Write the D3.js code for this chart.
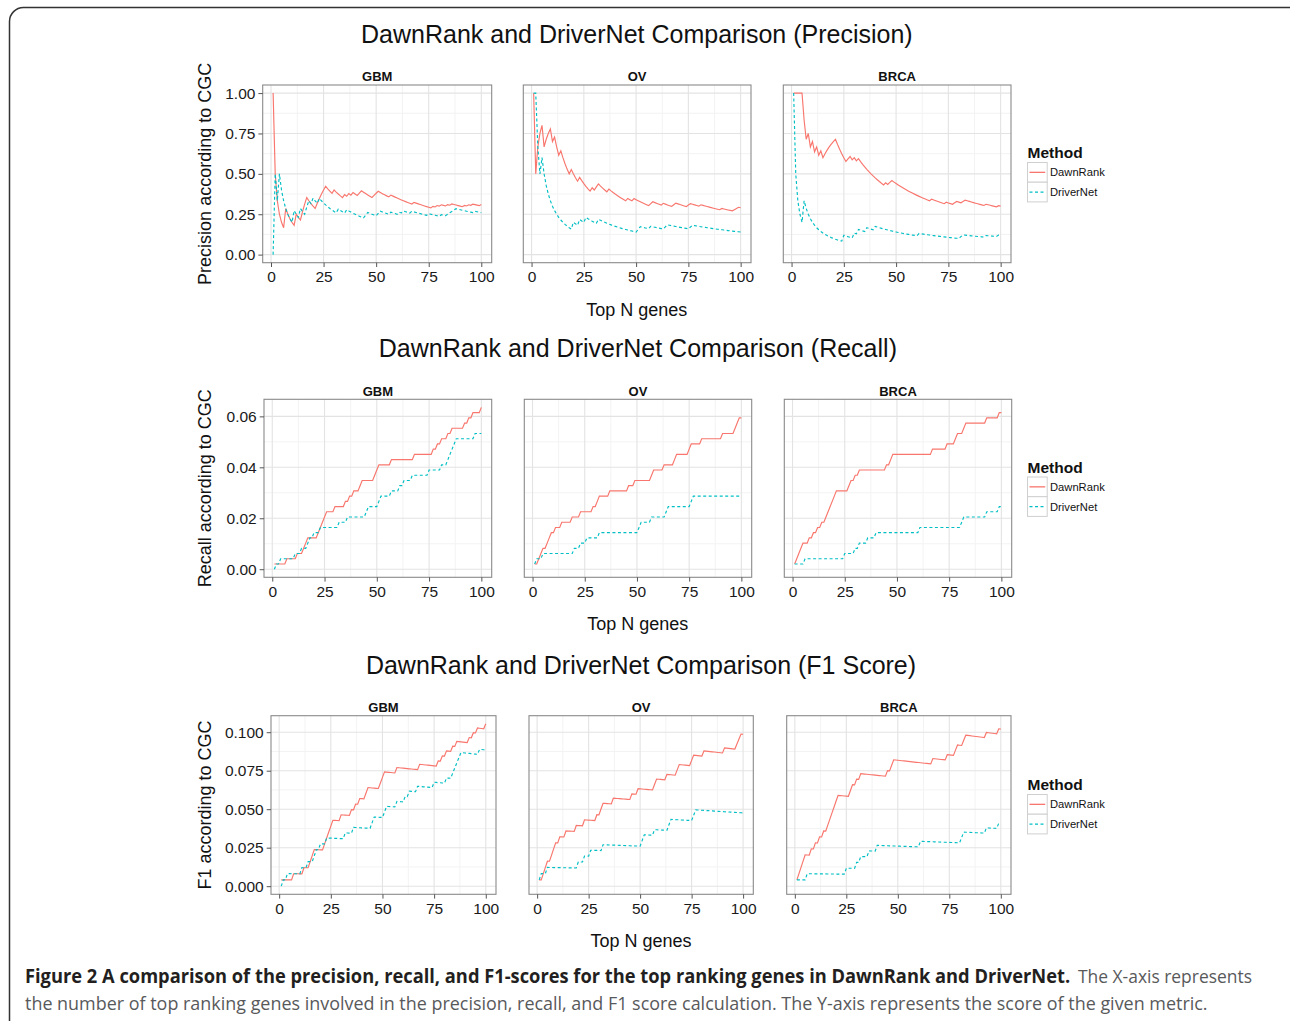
<!DOCTYPE html>
<html>
<head>
<meta charset="utf-8">
<script src="https://cdn.jsdelivr.net/npm/d3@7"></script>
<style>
  body { margin: 0; background: #fff; }
  svg { display: block; font-family: "Liberation Sans", Arial, Helvetica, sans-serif; }
</style>
</head>
<body>
<div id="chart"></div>
<script>
const cancers = ["GBM", "OV", "BRCA"];
const methods = ["DawnRank", "DriverNet"];
const methodColors = ["#F8766D", "#00BFC4"];
const cgcGeneCount = 488;
const topN = d3.range(1, 101);

// ranks (top N position) where a CGC gene turns up
const gbmDawnRankHits = [1, 7, 12, 15, 16, 17, 22, 23, 24, 25, 26, 30, 35, 37, 39, 42, 43, 49, 50, 51, 57, 68, 77, 79, 81, 84, 86, 92, 94, 96, 100];
const gbmDriverNetHits = [2, 4, 11, 14, 17, 18, 20, 23, 32, 36, 45, 46, 51, 52, 57, 61, 63, 67, 75, 81, 84, 85, 86, 87, 88, 97];
const ovDawnRankHits = [1, 3, 4, 5, 7, 8, 9, 11, 14, 19, 23, 29, 31, 32, 37, 46, 49, 57, 58, 63, 68, 69, 75, 76, 81, 91, 97, 98, 99];
const ovDriverNetHits = [1, 2, 5, 20, 23, 26, 32, 51, 52, 57, 64, 65, 76, 77];
const brcaDawnRankHits = [1, 2, 3, 4, 5, 8, 10, 12, 14, 16, 17, 18, 19, 20, 21, 27, 28, 30, 32, 45, 47, 48, 67, 74, 78, 79, 82, 83, 93, 99];
const brcaDriverNetHits = [1, 6, 25, 30, 32, 36, 40, 61, 81, 82, 93, 99];

const xTicks = [0, 25, 50, 75, 100];
const precisionTicks = [0, 0.25, 0.5, 0.75, 1];
const recallTicks = [0, 0.02, 0.04, 0.06];
const f1Ticks = [0, 0.025, 0.05, 0.075, 0.1];

const hits = {
  GBM: [gbmDawnRankHits, gbmDriverNetHits],
  OV: [ovDawnRankHits, ovDriverNetHits],
  BRCA: [brcaDawnRankHits, brcaDriverNetHits]
};

// running count of CGC genes within the top N
const counts = {};
cancers.forEach(c => {
  counts[c] = hits[c].map(h => {
    let tp = 0;
    return topN.map(n => {
      if (h.includes(n)) tp++;
      return {n, tp};
    });
  });
});

const rows = [
  {
    title: "DawnRank and DriverNet Comparison (Precision)",
    yTitle: "Precision according to CGC",
    value: d => d.tp / d.n,
    ticks: precisionTicks, fmt: d3.format(".2f"),
    top: 85, bottom: 262.7,
    panels: [[262.7, 491.7], [523.3, 751], [783.3, 1011]],
    titleY: 43, xTitleY: 316, legendY: 158
  },
  {
    title: "DawnRank and DriverNet Comparison (Recall)",
    yTitle: "Recall according to CGC",
    value: d => d.tp / cgcGeneCount,
    ticks: recallTicks, fmt: d3.format(".2f"),
    top: 399.3, bottom: 577.3,
    panels: [[264, 491.7], [524.3, 751.7], [784.3, 1011.7]],
    titleY: 357, xTitleY: 630, legendY: 472.5
  },
  {
    title: "DawnRank and DriverNet Comparison (F1 Score)",
    yTitle: "F1 according to CGC",
    value: d => 2 * d.tp / (d.n + cgcGeneCount),
    ticks: f1Ticks, fmt: d3.format(".3f"),
    top: 715.7, bottom: 894.3,
    panels: [[271, 496], [529, 753.3], [786.7, 1011]],
    titleY: 674, xTitleY: 947, legendY: 790
  }
];

const W = 1290, H = 1021;
const svg = d3.select("#chart").append("svg")
  .attr("width", W).attr("height", H);

svg.append("rect").attr("width", W).attr("height", H).attr("fill", "#fff");

// figure frame
svg.append("rect")
  .attr("x", 9.5).attr("y", 7.5)
  .attr("width", 1300).attr("height", 1100)
  .attr("rx", 14)
  .attr("fill", "none")
  .attr("stroke", "#333")
  .attr("stroke-width", 1.5);

const midpoints = t => d3.pairs(t).map(([a, b]) => (a + b) / 2);

rows.forEach(row => {
  const g = svg.append("g");

  const series = cancers.map(c => counts[c].map(s => s.map(d => ({n: d.n, v: row.value(d)}))));
  const allVals = series.flat(2).map(d => d.v);
  const [lo, hi] = d3.extent(allVals);
  const yPad = (hi - lo) * 0.05;
  const y = d3.scaleLinear().domain([lo - yPad, hi + yPad]).range([row.bottom, row.top]);

  const [n0, n1] = d3.extent(topN);
  const xPad = (n1 - n0) * 0.05;

  const left = row.panels[0][0], right = row.panels[row.panels.length - 1][1];
  const cx = (left + right) / 2;

  g.append("text")
    .attr("x", cx).attr("y", row.titleY)
    .attr("text-anchor", "middle")
    .attr("font-size", 25)
    .attr("fill", "#111")
    .text(row.title);

  row.panels.forEach(([x0, x1], i) => {
    const x = d3.scaleLinear().domain([n0 - xPad, n1 + xPad]).range([x0, x1]);
    const p = g.append("g");

    p.append("rect")
      .attr("x", x0).attr("y", row.top)
      .attr("width", x1 - x0).attr("height", row.bottom - row.top)
      .attr("fill", "#fff");

    // minor grid
    p.selectAll(".xminor").data(midpoints(xTicks)).enter().append("line")
      .attr("x1", d => x(d)).attr("x2", d => x(d))
      .attr("y1", row.top).attr("y2", row.bottom)
      .attr("stroke", "#F3F3F3").attr("stroke-width", 1);
    p.selectAll(".yminor").data(midpoints(row.ticks)).enter().append("line")
      .attr("x1", x0).attr("x2", x1)
      .attr("y1", d => y(d)).attr("y2", d => y(d))
      .attr("stroke", "#F3F3F3").attr("stroke-width", 1);

    // major grid
    p.selectAll(".xmajor").data(xTicks).enter().append("line")
      .attr("x1", d => x(d)).attr("x2", d => x(d))
      .attr("y1", row.top).attr("y2", row.bottom)
      .attr("stroke", "#E3E3E3").attr("stroke-width", 1.1);
    p.selectAll(".ymajor").data(row.ticks).enter().append("line")
      .attr("x1", x0).attr("x2", x1)
      .attr("y1", d => y(d)).attr("y2", d => y(d))
      .attr("stroke", "#E3E3E3").attr("stroke-width", 1.1);

    const line = d3.line().x(d => x(d.n)).y(d => y(d.v));
    series[i].forEach((s, k) => {
      p.append("path")
        .datum(s)
        .attr("d", line)
        .attr("fill", "none")
        .attr("stroke", methodColors[k])
        .attr("stroke-width", 1.15)
        .attr("stroke-dasharray", k === 1 ? "3,2.5" : null);
    });

    p.append("rect")
      .attr("x", x0).attr("y", row.top)
      .attr("width", x1 - x0).attr("height", row.bottom - row.top)
      .attr("fill", "none")
      .attr("stroke", "#8A8A8A").attr("stroke-width", 1.1);

    // strip label
    p.append("text")
      .attr("x", (x0 + x1) / 2).attr("y", row.top - 3.7)
      .attr("text-anchor", "middle")
      .attr("font-size", 13).attr("font-weight", "bold")
      .attr("fill", "#111")
      .text(cancers[i]);

    const xAxis = p.append("g")
      .attr("transform", `translate(0,${row.bottom})`)
      .call(d3.axisBottom(x).tickValues(xTicks).tickSize(4.3).tickPadding(4.3));
    xAxis.select(".domain").remove();
    xAxis.selectAll("line").attr("stroke", "#555");
    xAxis.selectAll("text").attr("font-size", 15.5).attr("fill", "#1a1a1a")
      .attr("font-family", "Liberation Sans, Arial, sans-serif");

    if (i === 0) {
      const yAxis = p.append("g")
        .attr("transform", `translate(${x0},0)`)
        .call(d3.axisLeft(y).tickValues(row.ticks).tickFormat(row.fmt).tickSize(4.3).tickPadding(3));
      yAxis.select(".domain").remove();
      yAxis.selectAll("line").attr("stroke", "#555");
      yAxis.selectAll("text").attr("font-size", 15.5).attr("fill", "#1a1a1a")
        .attr("font-family", "Liberation Sans, Arial, sans-serif");

      g.append("text")
        .attr("transform", `translate(211,${(row.top + row.bottom) / 2}) rotate(-90)`)
        .attr("text-anchor", "middle")
        .attr("font-size", 18)
        .attr("fill", "#111")
        .text(row.yTitle);
    }
  });

  g.append("text")
    .attr("x", cx).attr("y", row.xTitleY)
    .attr("text-anchor", "middle")
    .attr("font-size", 18)
    .attr("fill", "#111")
    .text("Top N genes");

  // legend
  const lg = g.append("g").attr("transform", `translate(1027.5,${row.legendY})`);
  lg.append("text")
    .attr("x", 0).attr("y", 0)
    .attr("font-size", 15.5).attr("font-weight", "bold")
    .attr("fill", "#111")
    .text("Method");
  methods.forEach((m, k) => {
    const ky = 4.5 + k * 19.7;
    lg.append("rect")
      .attr("x", 0).attr("y", ky)
      .attr("width", 19.7).attr("height", 19.7)
      .attr("fill", "#fff").attr("stroke", "#CFCFCF").attr("stroke-width", 1);
    lg.append("line")
      .attr("x1", 2).attr("x2", 17.7)
      .attr("y1", ky + 9.85).attr("y2", ky + 9.85)
      .attr("stroke", methodColors[k]).attr("stroke-width", 1.3)
      .attr("stroke-dasharray", k === 1 ? "3,2.5" : null);
    lg.append("text")
      .attr("x", 22.5).attr("y", ky + 13.8)
      .attr("font-size", 11.2)
      .attr("fill", "#111")
      .text(m);
  });
});

// caption: condensed look by squeezing each run to the width it takes in the figure
const captionRuns = [
  {text: "Figure 2 A comparison of the precision, recall, and F1-scores for the top ranking genes in DawnRank and DriverNet.", x: 25, y: 983, width: 1046, bold: true},
  {text: "The X-axis represents", x: 1078, y: 983, width: 174, bold: false},
  {text: "the number of top ranking genes involved in the precision, recall, and F1 score calculation. The Y-axis represents the score of the given metric.", x: 25, y: 1009.5, width: 1183, bold: false}
];
const cap = svg.append("g").attr("font-family", "'Open Sans', 'Liberation Sans', sans-serif").attr("font-size", 19);
captionRuns.forEach(r => {
  const t = cap.append("text")
    .attr("font-weight", r.bold ? "bold" : null)
    .attr("fill", r.bold ? "#231F20" : "#58595B")
    .text(r.text);
  const natural = t.node().getComputedTextLength();
  t.attr("transform", `translate(${r.x},${r.y}) scale(${r.width / natural},1)`);
});
</script>
</body>
</html>
